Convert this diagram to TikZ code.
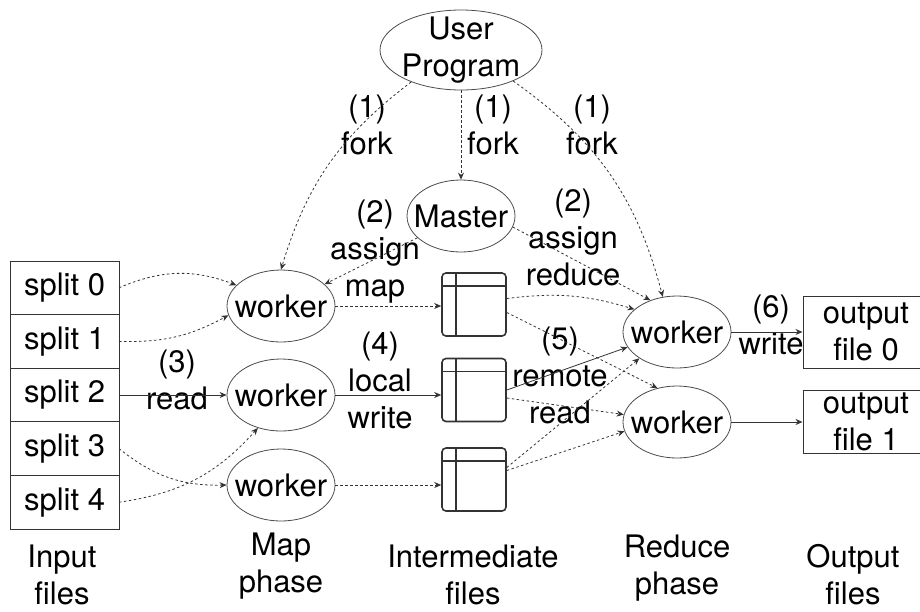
\documentclass[tikz,border=0pt]{standalone}
\usepackage{fontspec}
\setmainfont{TeX Gyre Heros}
\usetikzlibrary{shapes.geometric, arrows.meta}

\begin{document}
\begin{tikzpicture}[
    x=1pt, y=1pt,
    every node/.style={font=\fontsize{31}{37}\selectfont},
    note/.style={align=center, inner sep=0pt},
    oval/.style={ellipse, draw=black!70, line width=0.8pt, inner sep=0pt},
    worker/.style={oval, minimum width=108pt, minimum height=72pt, label=center:worker},
    split/.style={draw=black!80, line width=1pt, minimum width=109pt, minimum height=53.6pt, inner sep=0pt, outer sep=0pt},
    outfile/.style={draw=black!80, line width=1pt, minimum width=126pt, align=center, inner sep=0pt},
    interfile/.style={draw=black!80, line width=1.6pt, rounded corners=4pt, minimum width=64pt, minimum height=63pt,
        path picture={
            \draw[line width=1.6pt, black!80] ([yshift=-13pt]path picture bounding box.north west) -- ([yshift=-13pt]path picture bounding box.north east);
            \draw[line width=1.6pt, black!80] ([xshift=14pt]path picture bounding box.north west) -- ([xshift=14pt]path picture bounding box.south west);
        }},
    solidflow/.style={-{Stealth[length=7pt, width=6pt]}, line width=0.8pt, color=black!80},
    dotflow/.style={solidflow, dash pattern=on 2.5pt off 2.5pt}
]
    \useasboundingbox (0,0) rectangle (920,-611);

    % control nodes
    \node[oval, minimum width=162pt, minimum height=80pt, label={[align=center]center:{User\\Program}}] (user) at (461,-50) {};
    \node[oval, minimum width=108pt, minimum height=72pt, label=center:Master] (master) at (461,-216) {};

    % input splits
    \foreach \i in {0,...,4}
        \node[split] (s\i) at (64.5,-287.8-53.6*\i) {split \i};

    % workers
    \node[worker] (mw1) at (281,-306) {};
    \node[worker] (mw2) at (281,-395) {};
    \node[worker] (mw3) at (281,-485) {};
    \node[worker] (rw1) at (677,-332) {};
    \node[worker] (rw2) at (677,-422) {};

    % intermediate and output files
    \node[interfile] (f1) at (474,-304.5) {};
    \node[interfile] (f2) at (474,-390) {};
    \node[interfile] (f3) at (474,-479.5) {};
    \node[outfile, minimum height=72pt] (out0) at (866,-332) {output\\file 0};
    \node[outfile, minimum height=63pt] (out1) at (866,-421.5) {output\\file 1};

    % step labels
    \node[note] (fork1) at (367,-125) {(1)\\fork};
    \node[note] (fork2) at (493,-125) {(1)\\fork};
    \node[note] (fork3) at (592,-125) {(1)\\fork};
    \node[note] (assignmap) at (375,-252) {(2)\\assign\\map};
    \node[note] (assignred) at (573,-237) {(2)\\assign\\reduce};
    \node[note] (readlbl) at (177,-380) {(3)\\read};
    \node[note] (localwrite) at (380,-380) {(4)\\local\\write};
    \node[note] (remoteread) at (560,-375) {(5)\\remote\\read};
    \node[note] (writelbl) at (771,-325) {(6)\\write};

    % phase captions
    \node[note] (capin) at (62,-575) {Input\\files};
    \node[note] (capmap) at (281,-566) {Map\\phase};
    \node[note] (capinter) at (473,-575) {Intermediate\\files};
    \node[note] (capred) at (677,-568) {Reduce\\phase};
    \node[note] (capout) at (853,-575) {Output\\files};

    % fork and assign
    \draw[dotflow] (user) to[bend right=18] (mw1.north);
    \draw[dotflow] (user) -- (master);
    \draw[dotflow] (user) to[bend left=20] (rw1.112);
    \draw[dotflow] (master) -- (mw1);
    \draw[dotflow] (master.-12) -- (rw1.130);

    % read
    \draw[dotflow] (s0.east) to[bend left=22] (mw1.155);
    \draw[dotflow] (s1.east) to[bend right=15] (mw1.190);
    \draw[solidflow] (s2) -- (mw2);
    \draw[dotflow] (s3.east) to[bend right=20] (mw3.west);
    \draw[dotflow] (s4.east) to[bend right=20] (mw2.235);

    % local write
    \draw[dotflow] (mw1) -- (mw1 -| f1.west);
    \draw[solidflow] (mw2.east) -- (mw2.east -| f2.west);
    \draw[dotflow] (mw3) -- (mw3 -| f3.west);

    % remote read
    \draw[dotflow] ([yshift=6pt]f1.east) to[bend left=12] (rw1.152);
    \draw[dotflow] ([yshift=-8pt]f1.east) -- (rw2.120);
    \draw[solidflow] (f2.east) -- (rw1.197);
    \draw[dotflow] ([yshift=-8pt]f2.east) -- (rw2.172);
    \draw[dotflow] ([yshift=12pt]f3.east) -- (rw1.215);
    \draw[dotflow] ([yshift=9pt]f3.east) -- (rw2.190);

    % write
    \draw[solidflow] (rw1) -- (out0);
    \draw[solidflow] (rw2) -- (rw2 -| out1.west);
\end{tikzpicture}
\end{document}
